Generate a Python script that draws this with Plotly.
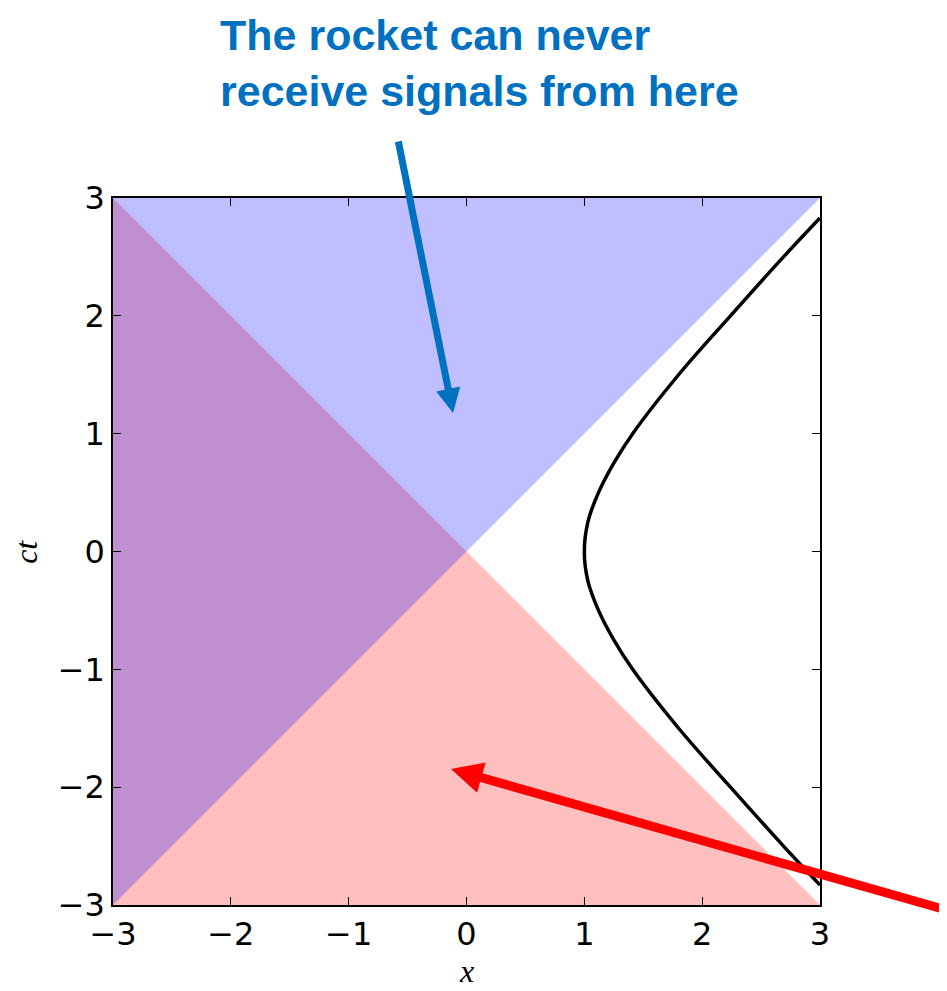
import plotly.graph_objects as go

# Light-cone regions (polygon vertices in data units)
blue_x = [-3, 3, -3]
blue_ct = [-3, 3, 3]
red_x = [-3, 3, -3]
red_ct = [3, -3, -3]

# Rocket worldline (hyperbola)
rocket_ct = [-2.83, -2.5, -2.0, -1.5, -1.0, -0.75, -0.5, -0.25, 0.0,
             0.25, 0.5, 0.75, 1.0, 1.5, 2.0, 2.5, 2.83]
rocket_x = [3.0, 2.69, 2.24, 1.80, 1.41, 1.25, 1.12, 1.03, 1.0,
            1.03, 1.12, 1.25, 1.41, 1.80, 2.24, 2.69, 3.0]

tick_vals = [-3, -2, -1, 0, 1, 2, 3]
tick_text = ["\u22123", "\u22122", "\u22121", "0", "1", "2", "3"]

x_label = "x"
y_label = "ct"
annotation_text = "The rocket can never<br>receive signals from here"
blue_arrow = {"head": (-0.114, 1.175), "tail": (-0.581, 3.492)}
red_arrow = {"head": (-0.131, -1.846), "tail": (4.45, -3.15)}

fig = go.Figure()
fig.add_trace(go.Scatter(x=red_x, y=red_ct, fill="toself", mode="lines",
                         line=dict(width=0), fillcolor="rgba(255,0,0,0.25)",
                         hoverinfo="skip", showlegend=False))
fig.add_trace(go.Scatter(x=blue_x, y=blue_ct, fill="toself", mode="lines",
                         line=dict(width=0), fillcolor="rgba(0,0,255,0.25)",
                         hoverinfo="skip", showlegend=False))
fig.add_trace(go.Scatter(x=rocket_x, y=rocket_ct, mode="lines",
                         line=dict(color="black", width=3.5, shape="spline"),
                         showlegend=False))

axis_common = dict(
    range=[-3, 3], tickvals=tick_vals, ticktext=tick_text,
    ticks="inside", ticklen=8, tickwidth=1, tickcolor="black",
    showline=True, linecolor="black", linewidth=1.5, mirror="allticks",
    showgrid=False, zeroline=False, automargin=False,
    tickfont=dict(family="DejaVu Sans", size=32, color="black"),
)
fig.update_xaxes(**axis_common)
fig.update_yaxes(**axis_common)

label_font = dict(family="Liberation Serif", size=32, color="black", style="italic")
fig.add_annotation(xref="paper", yref="paper", x=0.5, y=-0.1214,
                   xanchor="center", yanchor="bottom",
                   text=x_label, showarrow=False, font=label_font)
fig.add_annotation(xref="paper", yref="paper", x=-0.124, y=0.5,
                   xanchor="center", yanchor="middle",
                   text=y_label, showarrow=False, font=label_font, textangle=-90)

fig.add_annotation(xref="paper", yref="paper", x=0.148, y=1.267,
                   xanchor="left", yanchor="top", align="left",
                   text=annotation_text, showarrow=False,
                   font=dict(family="Liberation Sans", size=43, color="#0070C0", weight="bold"))

for arr, col, w in [(blue_arrow, "#0070C0", 7), (red_arrow, "#FF0000", 9)]:
    fig.add_annotation(x=arr["head"][0], y=arr["head"][1], xref="x", yref="y",
                       ax=arr["tail"][0], ay=arr["tail"][1], axref="x", ayref="y",
                       text="", showarrow=True, arrowhead=2, arrowsize=0.7,
                       arrowwidth=w, arrowcolor=col)

fig.update_layout(width=939, height=983,
                  margin=dict(l=105, r=127, t=190, b=86),
                  paper_bgcolor="white", plot_bgcolor="white")
fig.write_html("out.html")
